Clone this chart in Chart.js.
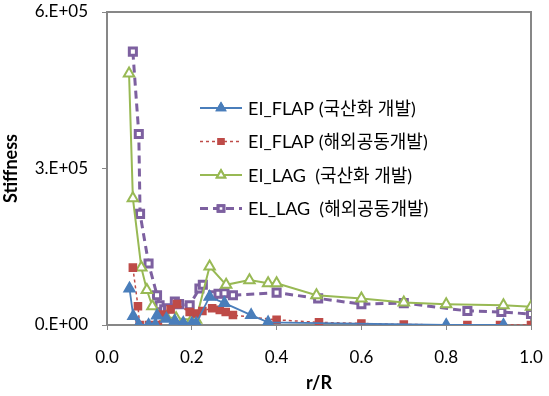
<!DOCTYPE html>
<html>
<head>
<meta charset="utf-8">
<script src="https://cdn.jsdelivr.net/npm/chart.js@4"></script>
<style>
  html, body { margin: 0; padding: 0; background: #fff; }
  #wrap { width: 549px; height: 396px; }
</style>
</head>
<body>
<div id="wrap"><canvas id="stiffChart" width="549" height="396"></canvas></div>
<script>
// r/R positions and stiffness values (x1E5)
const flapDomX = [0.053, 0.062, 0.075, 0.098, 0.114, 0.118, 0.14, 0.16, 0.18, 0.20, 0.21, 0.242, 0.277, 0.34, 0.38, 0.80, 0.935];
const flapDomY = [0.70, 0.17, 0.0, 0.0, 0.0, 0.18, 0.12, 0.08, 0.04, 0.03, 0.03, 0.54, 0.42, 0.19, 0.05, 0.0, 0.0];

const flapForX = [0.061, 0.073, 0.077, 0.099, 0.12, 0.13, 0.15, 0.165, 0.195, 0.21, 0.225, 0.248, 0.266, 0.28, 0.297, 0.40, 0.50, 0.60, 0.70, 0.85, 0.927, 1.0];
const flapForY = [1.10, 0.36, 0.0, 0.0, 0.0, 0.20, 0.30, 0.40, 0.25, 0.22, 0.27, 0.32, 0.29, 0.25, 0.19, 0.10, 0.05, 0.03, 0.01, 0.0, 0.0, 0.0];

const lagDomX = [0.052, 0.061, 0.081, 0.094, 0.107, 0.14, 0.163, 0.20, 0.21, 0.242, 0.281, 0.336, 0.38, 0.40, 0.494, 0.60, 0.70, 0.80, 0.935, 1.0];
const lagDomY = [4.82, 2.43, 1.10, 0.67, 0.36, 0.15, 0.13, 0.10, 0.10, 1.12, 0.77, 0.86, 0.80, 0.80, 0.57, 0.51, 0.43, 0.40, 0.38, 0.35];

const lagForX = [0.061, 0.075, 0.078, 0.098, 0.118, 0.124, 0.135, 0.144, 0.16, 0.17, 0.195, 0.218, 0.226, 0.25, 0.263, 0.277, 0.297, 0.40, 0.498, 0.60, 0.70, 0.85, 0.93, 1.0];
const lagForY = [5.24, 3.66, 2.13, 1.18, 0.57, 0.38, 0.30, 0.32, 0.45, 0.40, 0.38, 0.70, 0.77, 0.57, 0.60, 0.61, 0.57, 0.62, 0.51, 0.40, 0.42, 0.27, 0.25, 0.21];

const seriesNames = ['EI_FLAP (국산화 개발)', 'EI_FLAP (해외공동개발)', 'EI_LAG  (국산화 개발)', 'EL_LAG  (해외공동개발)'];
const xTicks = [0, 0.2, 0.4, 0.6, 0.8, 1.0];
const yTicks = [0, 3e5, 6e5];

const FONT = "Lato, 'Noto Sans CJK KR', sans-serif";

function pts(xs, ys) {
  return xs.map((x, i) => ({ x: x, y: ys[i] * 1e5 }));
}

// legend drawn inside the plot, like the original
const boxLegend = {
  id: 'boxLegend',
  afterDraw(chart) {
    const ctx = chart.ctx;
    const rowsY = [108, 141.5, 175, 208.5];
    ctx.save();
    chart.data.datasets.forEach((ds, i) => {
      const y = rowsY[i];
      ctx.beginPath();
      ctx.setLineDash(ds.borderDash || []);
      ctx.strokeStyle = ds.borderColor;
      ctx.lineWidth = ds.borderWidth;
      ctx.moveTo(200, y);
      ctx.lineTo(242, y);
      ctx.stroke();
      ctx.setLineDash([]);
      Chart.helpers.drawPoint(ctx, {
        pointStyle: ds.pointStyle,
        radius: ds.pointRadius * 0.8,
        borderWidth: 1
      }, 221, y);
      ctx.fillStyle = ds.pointBackgroundColor;
      ctx.strokeStyle = ds.pointBorderColor;
      ctx.fill();
      ctx.stroke();
      ctx.fillStyle = '#000';
      ctx.font = "18px " + FONT;
      ctx.textBaseline = 'middle';
      ctx.fillText(ds.label, 248, y + 1);
    });
    ctx.restore();
  }
};

// grey frame round the plot area
const frame = {
  id: 'frame',
  beforeDatasetsDraw(chart) {
    const a = chart.chartArea;
    const ctx = chart.ctx;
    ctx.save();
    ctx.strokeStyle = '#878787';
    ctx.lineWidth = 2;
    ctx.strokeRect(a.left, a.top, a.right - a.left, a.bottom - a.top);
    ctx.restore();
  }
};

const ctx = document.getElementById('stiffChart').getContext('2d');
const stiffChart = new Chart(ctx, {
  type: 'scatter',
  data: {
    datasets: [
      {
        label: seriesNames[0],
        data: pts(flapDomX, flapDomY),
        showLine: true,
        borderColor: '#4a7ebb',
        borderWidth: 1.8,
        pointStyle: 'triangle',
        pointRadius: 6,
        pointBackgroundColor: '#4a7ebb',
        pointBorderColor: '#4a7ebb'
      },
      {
        label: seriesNames[1],
        data: pts(flapForX, flapForY),
        showLine: true,
        borderColor: '#be4b48',
        borderWidth: 1.5,
        borderDash: [3, 3],
        pointStyle: 'rect',
        pointRadius: 5,
        pointBackgroundColor: '#be4b48',
        pointBorderColor: '#be4b48'
      },
      {
        label: seriesNames[2],
        data: pts(lagDomX, lagDomY),
        showLine: true,
        borderColor: '#98b954',
        borderWidth: 2,
        pointStyle: 'triangle',
        pointRadius: 6,
        pointBackgroundColor: '#ffffff',
        pointBorderColor: '#98b954'
      },
      {
        label: seriesNames[3],
        data: pts(lagForX, lagForY),
        showLine: true,
        borderColor: '#7d60a0',
        borderWidth: 3,
        borderDash: [8, 5],
        pointStyle: 'rect',
        pointRadius: 5,
        pointBackgroundColor: '#ffffff',
        pointBorderColor: '#7d60a0'
      }
    ]
  },
  options: {
    responsive: false,
    animation: false,
    layout: { padding: { left: 0, right: 18, top: 12, bottom: 0 } },
    elements: { line: { tension: 0 }, point: { borderWidth: 1 } },
    scales: {
      x: {
        type: 'linear',
        min: 0,
        max: 1,
        afterBuildTicks: (axis) => { axis.ticks = xTicks.map(v => ({ value: v })); },
        afterFit: (axis) => {
          axis.height = 71;
          axis.paddingLeft = 0;
          axis.paddingRight = 0;
        },
        border: { display: false },
        grid: { drawOnChartArea: false, tickLength: 5, color: '#878787', lineWidth: 1 },
        ticks: {
          color: '#000',
          font: { family: FONT, size: 17 },
          padding: 17,
          maxRotation: 0,
          callback: (v) => v.toFixed(1)
        },
        title: {
          display: true,
          text: 'r/R',
          color: '#000',
          font: { family: FONT, size: 18, weight: 'bold' },
          padding: { top: 0, bottom: 2 }
        }
      },
      y: {
        min: 0,
        max: 6e5,
        afterBuildTicks: (axis) => { axis.ticks = yTicks.map(v => ({ value: v })); },
        afterFit: (axis) => {
          axis.width = 107;
          axis.paddingTop = 0;
          axis.paddingBottom = 0;
        },
        border: { display: false },
        grid: { drawOnChartArea: false, tickLength: 5, color: '#878787', lineWidth: 1 },
        ticks: {
          color: '#000',
          font: { family: FONT, size: 17 },
          padding: 14,
          callback: (v) => (v / 1e5 === 0 ? '0.E+00' : (v / 1e5) + '.E+05')
        },
        title: {
          display: true,
          text: 'Stiffness',
          color: '#000',
          font: { family: FONT, size: 18, weight: 'bold' },
          padding: { top: 0, bottom: 6 }
        }
      }
    },
    plugins: {
      legend: { display: false },
      tooltip: { enabled: false }
    }
  },
  plugins: [frame, boxLegend]
});
</script>
</body>
</html>
